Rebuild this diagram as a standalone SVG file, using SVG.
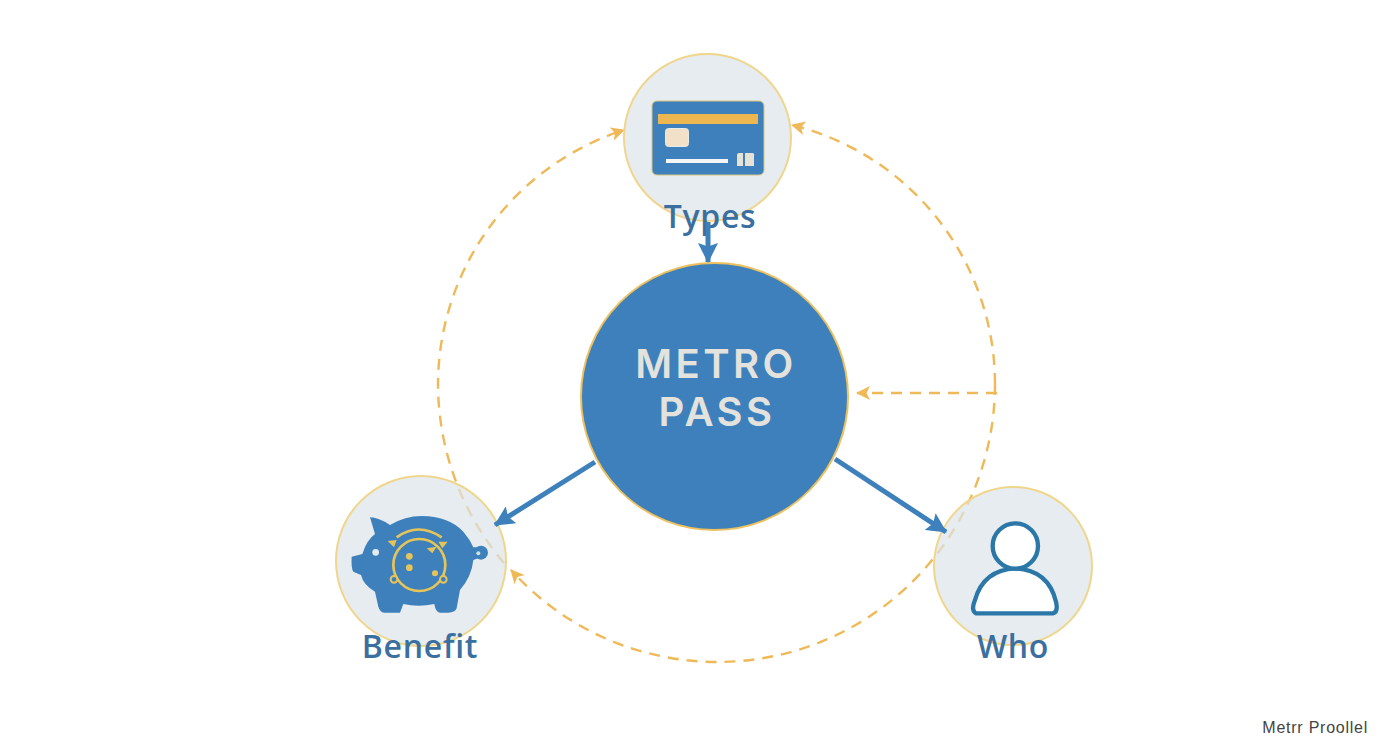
<svg xmlns="http://www.w3.org/2000/svg" width="1392" height="752" viewBox="0 0 1392 752">
<style>
.dash{fill:none;stroke:#efb958;stroke-width:2.4;stroke-dasharray:11 8}
.blue{fill:none;stroke:#3d80bb;stroke-linecap:butt}
.node{fill:#dbe4e8;fill-opacity:.7;stroke:#efd68c;stroke-width:2}
.label{font-family:"Open Sans","Liberation Sans",sans-serif;font-weight:600;font-size:32px;letter-spacing:.7px;fill:#3b6f9f;text-anchor:middle}
.center{font-family:"Inter","Liberation Sans",sans-serif;font-weight:600;font-size:40px;fill:#e4e2dd;text-anchor:middle;letter-spacing:3.4px}
.gold{fill:none;stroke:#e6c45a;stroke-width:8}
</style>
<defs>
<marker id="oa" viewBox="0 0 14 14" refX="13" refY="7" markerWidth="14" markerHeight="14" markerUnits="userSpaceOnUse" orient="auto"><path d="M0 0L14 7L0 14L3.500 7Z" fill="#efb958"/></marker>
<marker id="ba" viewBox="0 0 20 20" refX="19" refY="10" markerWidth="20" markerHeight="20" markerUnits="userSpaceOnUse" orient="auto"><path d="M0 0L20 10L0 20L3.500 10Z" fill="#3d80bb"/></marker>
</defs>
<rect width="1392" height="752" fill="#fff"/>
<g id="connectors-dashed">
<path class="dash" d="M504 563A278 278 0 0 1 438 385A268 268 0 0 1 624 130" marker-end="url(#oa)"/>
<path class="dash" d="M995 384A267 267 0 0 0 792 125" marker-end="url(#oa)"/>
<path class="dash" d="M995 384A278 278 0 0 1 716 662A278 278 0 0 1 511 570" marker-end="url(#oa)"/>
<path class="dash" d="M997 393H857" marker-end="url(#oa)"/>
</g>
<g id="node-types">
<circle class="node" cx="707.500" cy="137.500" r="83.500"/>
<rect x="652" y="101" width="112" height="74" rx="5" fill="#3d80bb" stroke="#d9c27a" stroke-width="1"/>
<rect x="658" y="114" width="100" height="10" fill="#eeb64f"/>
<rect x="665.500" y="128.500" width="23" height="18" rx="3" fill="#f3e0c8" stroke="#e8ecea"/>
<rect x="666" y="159" width="62" height="4" fill="#f5f7f7"/>
<path d="M737 166V155Q737 153 739 153H743V166ZM745 166V153H752Q755 153 754 156V166Z" fill="#e8e2d6"/>
<text class="label" x="710" y="228">Types</text>
</g>
<g id="node-center">
<circle cx="714.500" cy="396.500" r="133.500" fill="#3d80bb" stroke="#ecc05e" stroke-width="2"/>
<text class="center" x="716" y="378">METRO</text>
<text class="center" x="717" y="426">PASS</text>
</g>
<g id="node-benefit">
<circle class="node" cx="421" cy="561" r="85"/>
<g transform="translate(325 460) scale(.3333)">
<path d="M80 290L112 282Q125 240 150 222L135 172Q160 172 195 195Q240 168 290 168Q370 168 415 215Q435 238 445 262L460 262L460 295L445 300Q440 350 405 390L395 445Q390 458 370 458L345 458Q332 458 328 432Q280 442 235 432L225 458L180 458Q165 458 160 440L150 395Q115 375 108 345L85 335Q78 325 80 290Z" fill="#3d80bb"/>
<circle cx="468" cy="278" r="21" fill="#3d80bb"/>
<circle cx="460" cy="280" r="6" fill="#cfe0ea"/>
<circle cx="152" cy="277" r="10" fill="#e5ebee"/>
<circle class="gold" cx="283" cy="315" r="78"/>
<path class="gold" d="M215 232Q280 185 350 232"/>
<path d="M188 243L215 240L207 262ZM368 245L340 245L352 265ZM305 265L335 260L322 280Z" fill="#e6c45a"/>
<circle cx="253" cy="289" r="10" fill="#e6c45a"/>
<circle cx="253" cy="323" r="10" fill="#e6c45a"/>
<circle cx="330" cy="340" r="9" fill="#e6c45a"/>
<circle cx="207" cy="358" r="10" fill="#3d80bb" stroke="#e6c45a" stroke-width="6"/>
<circle cx="355" cy="358" r="10" fill="#3d80bb" stroke="#e6c45a" stroke-width="6"/>
</g>
<text class="label" x="420" y="658">Benefit</text>
</g>
<g id="node-who">
<circle class="node" cx="1013" cy="566" r="79"/>
<g transform="translate(920 470) scale(.3333)">
<path d="M168 430Q152 422 165 390Q190 300 286 295Q385 300 408 395Q415 425 400 430Z" fill="#fff" stroke="#2a77a8" stroke-width="13" stroke-linejoin="round"/>
<circle cx="286" cy="228" r="68" fill="#fff" stroke="#2a77a8" stroke-width="13"/>
</g>
<text class="label" x="1013" y="658">Who</text>
</g>
<g id="connectors">
<path class="blue" stroke-width="5" d="M708 222V262" marker-end="url(#ba)"/>
<path class="blue" stroke-width="5" d="M595 462L495 525" marker-end="url(#ba)"/>
<path class="blue" stroke-width="5" d="M835 459L946 532" marker-end="url(#ba)"/>
</g>
<text x="1368" y="733" font-family="'Liberation Sans',sans-serif" font-size="16" letter-spacing=".75" fill="#444" text-anchor="end">Metrr Proollel</text>
</svg>
